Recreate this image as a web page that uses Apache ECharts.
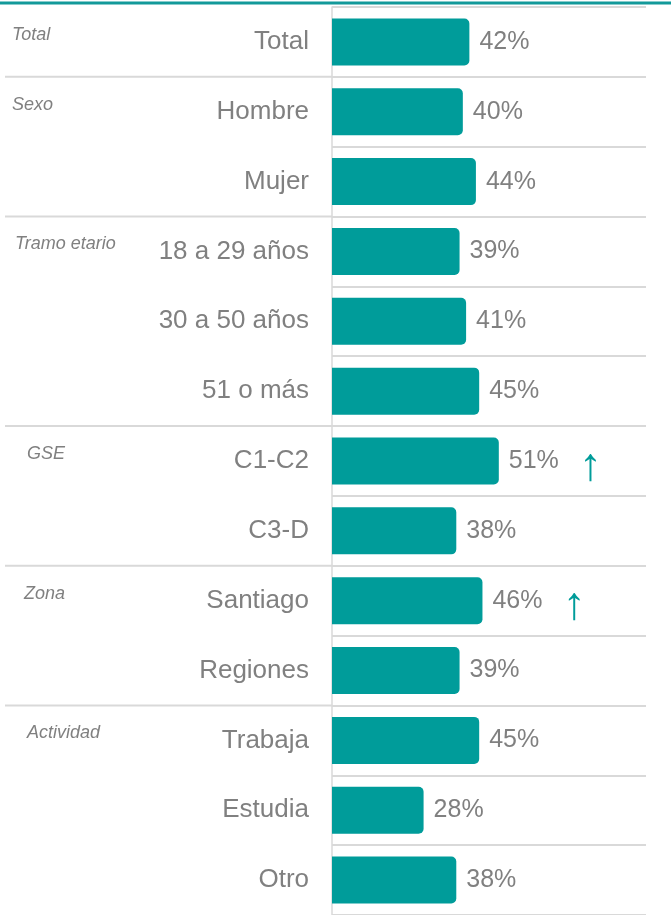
<!DOCTYPE html>
<html><head><meta charset="utf-8">
<script src="https://cdn.jsdelivr.net/npm/echarts@6/dist/echarts.min.js"></script>
<style>html,body{margin:0;padding:0;background:#fff}#c{width:671px;height:915px}</style>
</head><body><div id="c"></div>
<script>
const categories = ['Total','Hombre','Mujer','18 a 29 años','30 a 50 años','51 o más','C1-C2','C3-D','Santiago','Regiones','Trabaja','Estudia','Otro'];
const values = [42,40,44,39,41,45,51,38,46,39,45,28,38];
const significant = ['C1-C2','Santiago'];
const groups = ['Total','Sexo','Tramo etario','GSE','Zona','Actividad'];
const groupStart = ['Total','Hombre','18 a 29 años','C1-C2','Santiago','Trabaja'];

const TEAL = '#009c9a', GRAY = '#808080', LINE = '#d9d9d9';
const FONT = '"Liberation Sans", Arial, sans-serif';
const chart = echarts.init(document.getElementById('c'));
chart.setOption({
  animation:false,
  grid:{left:332,right:25,top:7,height:918,containLabel:false},
  xAxis:{type:'value',min:0,max:96,show:false},
  yAxis:{type:'category',data:categories,inverse:true,
    axisLine:{show:true,lineStyle:{color:LINE,width:1.5}},
    axisTick:{show:false},
    splitLine:{show:true,lineStyle:{color:LINE,width:2}},
    axisLabel:{fontSize:26,color:GRAY,margin:23,fontFamily:FONT}},
  series:[{type:'bar',data:values,barWidth:47,
    itemStyle:{color:TEAL,borderRadius:[0,5,5,0]},
    label:{show:true,position:'right',distance:10,
      formatter:p=> significant.includes(p.name) ? '{v|'+p.value+'%}{a|↑}' : '{v|'+p.value+'%}',
      rich:{v:{fontSize:25,color:GRAY,fontFamily:FONT},
            a:{fontSize:46,color:TEAL,padding:[12,0,0,20],fontFamily:FONT}}}}]
});
const y0 = chart.convertToPixel({yAxisIndex:0},categories[0]);
const y1 = chart.convertToPixel({yAxisIndex:0},categories[1]);
const step = y1-y0;
const labelX = [12,12,15,27,24,27];
const gfx = [{type:'line',shape:{x1:0,y1:3,x2:671,y2:3},style:{stroke:'#13999a',lineWidth:3}}];
groupStart.forEach((c,i)=>{
  const y = chart.convertToPixel({yAxisIndex:0},c);
  if(i>0) gfx.push({type:'line',shape:{x1:5,y1:y-step/2,x2:332,y2:y-step/2},style:{stroke:LINE,lineWidth:2}});
  gfx.push({type:'text',x:labelX[i],y:y-7,style:{text:groups[i],fill:GRAY,fontSize:18,fontStyle:'italic',fontFamily:FONT,verticalAlign:'middle'}});
});
chart.setOption({graphic:gfx});
</script></body></html>
